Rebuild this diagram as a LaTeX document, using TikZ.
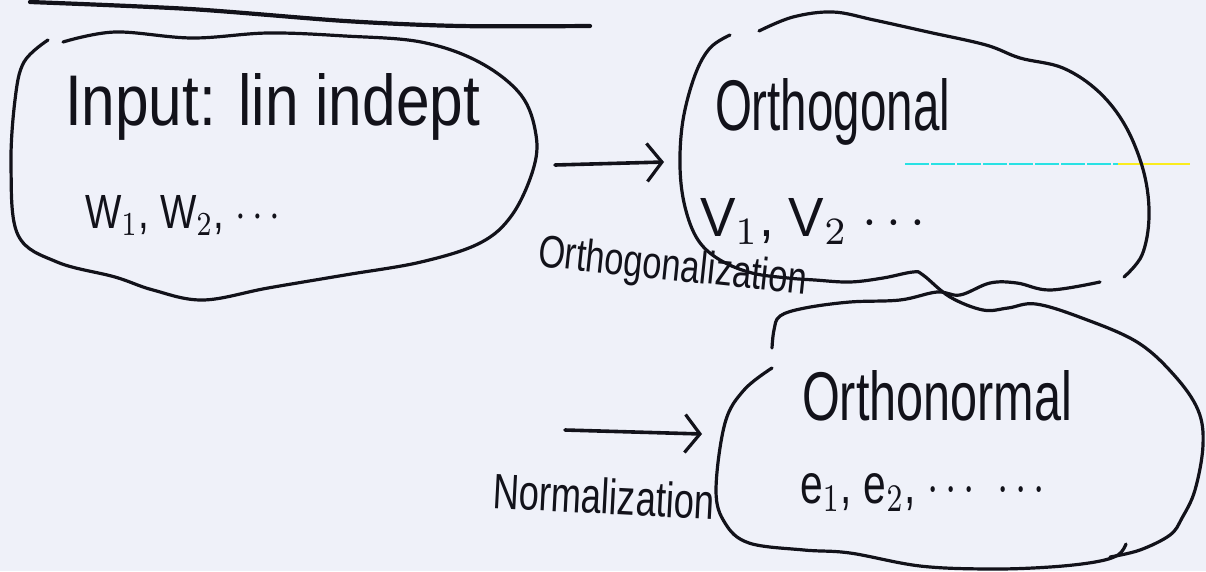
\documentclass[tikz,border=0pt]{standalone}
\usepackage{fontspec}
\setmainfont{Liberation Sans}
\usepackage{graphicx}
\usetikzlibrary{arrows.meta}
\definecolor{paper}{RGB}{239,241,249}
\definecolor{ink}{RGB}{18,18,26}
\definecolor{scancyan}{RGB}{40,225,228}
\definecolor{scanyellow}{RGB}{250,236,30}
\tikzset{
  blob/.style={draw=ink, line width=3.2pt, line cap=round, line join=round},
  hand/.style={inner sep=0pt, outer sep=0pt, text=ink, anchor=base west},
  flow/.style={draw=ink, line width=3.6pt, line cap=round,
    -{Straight Barb[length=15pt,width=38pt,line width=3.2pt]}},
}
\begin{document}
\begin{tikzpicture}[x=1pt,y=-1pt]
\useasboundingbox (0,0) rectangle (1206,571);
\fill[paper] (0,0) rectangle (1206,571);

% top rule
\draw[draw=ink, line width=4.2pt, line cap=round] plot[smooth] coordinates {(30,2) (190,9) (345,21) (460,26) (590,26)};

% scan artefact line
\draw[scancyan, line width=2.2pt, dash pattern=on 24pt off 2pt] (905,164) -- (1118,164);
\draw[scanyellow, line width=2.2pt] (1118,164) -- (1190,164);

% blob 1
\draw[blob] plot[smooth, tension=0.6] coordinates {(63,42) (115,32) (192,38) (268,33) (345,36) (421,42) (479,62) (521,95) (536,135) (533,170) (512,215) (480,243) (421,262) (345,275) (268,288) (203,300) (153,290) (115,277) (57,262) (18,235) (11,167) (15,100) (24,62) (48,40)};

% blob 2 outline continuing into blob 3 top-left
\draw[blob] plot[smooth, tension=0.6] coordinates {(759,31) (793,17) (833,12) (874,20) (928,32) (986,45) (1020,58) (1063,68) (1099,92) (1126,127) (1144,173) (1149,217) (1142,255) (1124,277)};
\draw[blob] plot[smooth, tension=0.6] coordinates {(1100,282) (1050,290) (1017,283) (990,283) (960,295) (937,292) (900,300) (850,302) (805,308) (780,316) (774,330) (772,348)};

% blob 3 right side continuing into blob 2 bottom-left
\draw[blob] plot[smooth, tension=0.6] coordinates {(1110,557) (1140,550) (1170,535) (1182,518) (1195,490) (1203,445) (1198,410) (1174,375) (1137,342) (1082,318) (1036,304) (1008,308) (983,310) (950,297) (923,275) (913,272) (883,278) (850,282) (815,280) (788,278) (752,273) (720,260) (698,240) (685,207) (680,167) (683,120) (695,75) (710,48) (730,35)};

% blob 3 left and bottom
\draw[blob] plot[smooth, tension=0.6] coordinates {(772,368) (744,390) (725,423) (716,490) (725,523) (749,543) (804,550) (850,553) (920,566) (990,569) (1050,567) (1095,562) (1118,555) (1126,544)};

% texts
\node[hand] (in1) at (65,125) {\resizebox{415pt}{52pt}{Input: lin indept}};
\node[hand] (in2) at (85,228) {\resizebox{195pt}{33pt}{W$_1$, W$_2$, $\cdots$}};
\node[hand] (or1) at (715,130) {\resizebox{235pt}{52pt}{Orthogonal}};
\node[hand] (or2) at (700,236) {\resizebox{225pt}{38pt}{V$_1$, V$_2$ $\cdots$}};
\node[hand, rotate=-6] (lab1) at (537,266) {\resizebox{270pt}{33pt}{Orthogonalization}};
\node[hand] (on1) at (802,420) {\resizebox{270pt}{50pt}{Orthonormal}};
\node[hand] (on2) at (800,503) {\resizebox{245pt}{30pt}{e$_1$, e$_2$, $\cdots$\ \ $\cdots$}};
\node[hand, rotate=-3] (lab2) at (492,508) {\resizebox{222pt}{36pt}{Normalization}};

% arrows
\coordinate (a1s) at (555,165);
\coordinate (a1e) at (664,162);
\coordinate (a2s) at (565,430);
\coordinate (a2e) at (702,434);
\draw[flow] (a1s) -- (a1e);
\draw[flow] (a2s) -- (a2e);
\end{tikzpicture}
\end{document}
